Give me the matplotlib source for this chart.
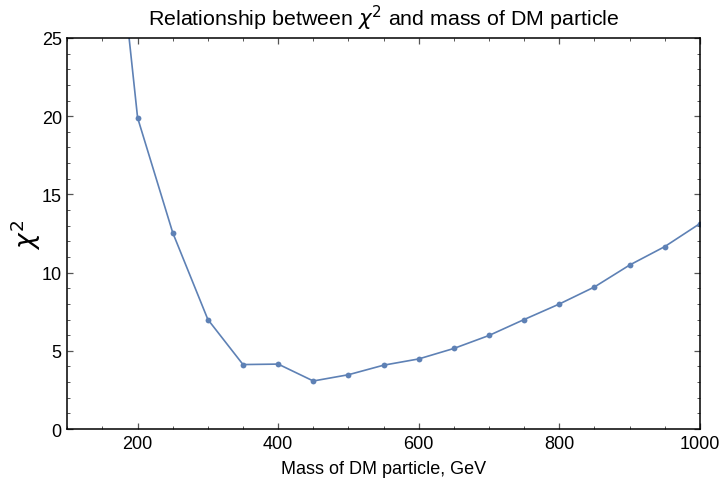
import numpy as np
import matplotlib.pyplot as plt
from matplotlib.ticker import MultipleLocator

plt.rcParams['font.family'] = ['Liberation Sans', 'DejaVu Sans']

# masa de la particula DM (GeV) y chi^2
mass = [150, 200, 250, 300, 350, 400, 450, 500, 550, 600, 650,
        700, 750, 800, 850, 900, 950, 1000]
chi2 = [41.0, 19.9, 12.55, 7.0, 4.12, 4.15, 3.07, 3.47, 4.08, 4.48, 5.15,
        5.98, 7.0, 7.99, 9.08, 10.48, 11.66, 13.13]

fig = plt.figure(figsize=(7.2, 4.85), dpi=100)
ax = fig.add_axes([0.0935, 0.1134, 0.8785, 0.8062])

ax.plot(mass, chi2, color='#5E81B5', lw=1.2, marker='o', ms=4.2,
        markeredgewidth=0)

ax.set_xlim(100, 1000)
ax.set_ylim(0, 25)
ax.xaxis.set_major_locator(MultipleLocator(200))
ax.xaxis.set_minor_locator(MultipleLocator(50))
ax.yaxis.set_major_locator(MultipleLocator(5))
ax.yaxis.set_minor_locator(MultipleLocator(1))
ax.tick_params(which='both', direction='in', top=True, right=True,
               color='#555555', labelsize=13)
ax.tick_params(which='major', length=4, width=0.9, pad=4)
ax.tick_params(which='minor', length=2.5, width=0.7)
for s in ax.spines.values():
    s.set_linewidth(1.1)
    s.set_color('black')

ax.set_xlabel('Mass of DM particle, GeV', fontsize=13, labelpad=6)
ax.set_ylabel(r'$\chi^2$', fontsize=19, labelpad=-1)
ax.set_title(r'Relationship between $\chi^2$ and mass of DM particle',
             fontsize=15.4, pad=9)

plt.savefig('out.png', dpi=100)
